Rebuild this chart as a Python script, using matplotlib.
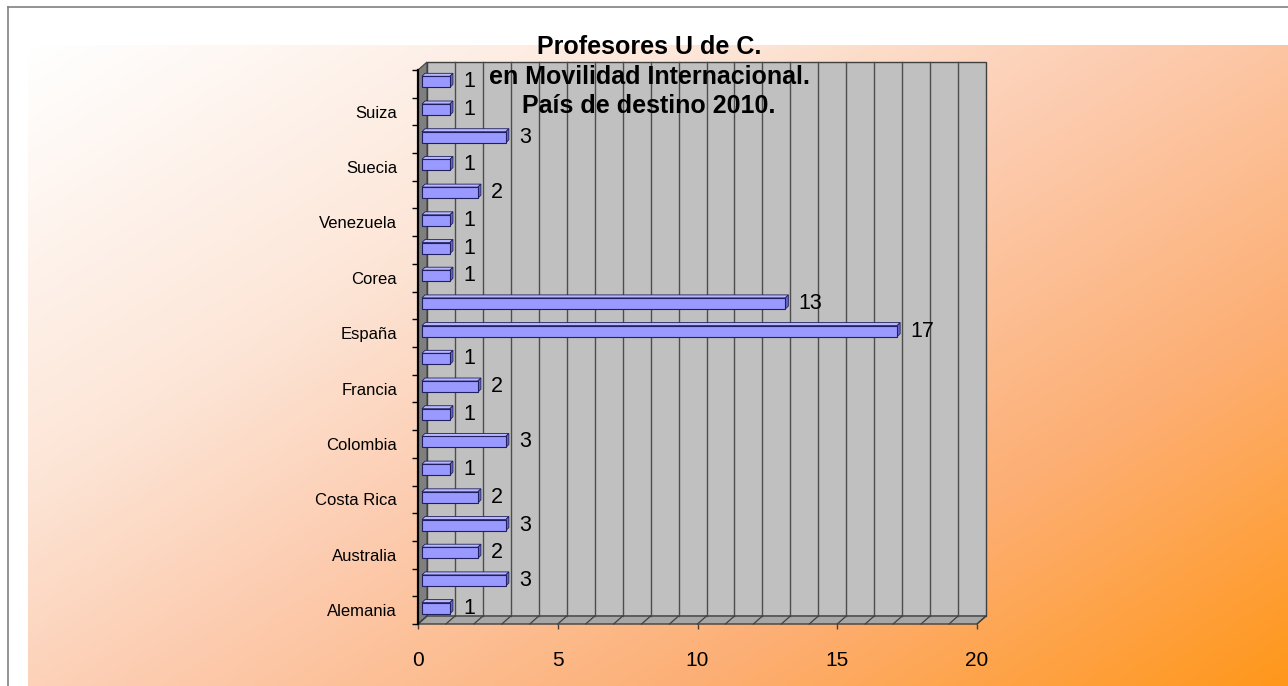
import matplotlib
matplotlib.use('Agg')
import matplotlib.pyplot as plt
import numpy as np
from matplotlib.colors import LinearSegmentedColormap
from matplotlib.patches import Polygon, Rectangle
from matplotlib.lines import Line2D

# datos (de abajo hacia arriba); solo se ven los nombres de una barra de cada dos
paises = ['Alemania', '', 'Australia', '', 'Costa Rica', '', 'Colombia', '', 'Francia', '',
          'España', '', 'Corea', '', 'Venezuela', '', 'Suecia', '', 'Suiza', '']
profesores = [1, 3, 2, 3, 2, 1, 3, 1, 2, 1, 17, 13, 1, 1, 1, 2, 1, 3, 1, 1]
xticks = [0, 5, 10, 15, 20]
titulo = 'Profesores U de C.\nen Movilidad Internacional.\nPaís de destino 2010.'

plt.rcParams['font.family'] = ['Liberation Sans', 'DejaVu Sans']

W, H = 1288, 686
fig = plt.figure(figsize=(W / 100, H / 100), dpi=100, facecolor='white')

# fondo degradado blanco -> naranja
bg = fig.add_axes([28 / W, 0, 1 - 28 / W, 1 - 45 / H], zorder=-1)
xx, yy = np.meshgrid(np.linspace(0, 1, 400), np.linspace(0, 1, 200))
t = 0.55 * xx + 0.45 * yy
cmap = LinearSegmentedColormap.from_list('naranja', [(0, '#FFFFFF'), (0.3, '#FDE6D8'), (0.5, '#FCCBAE'),
                                                     (0.75, '#FDAE72'), (1, '#FF971A')])
bg.imshow(t, cmap=cmap, aspect='auto', vmin=0, vmax=1, interpolation='bilinear')
bg.axis('off')

# marco
fig.add_artist(Line2D([8 / W, 1], [1 - 7 / H, 1 - 7 / H], color='#808080', lw=1.2))
fig.add_artist(Line2D([8 / W, 8 / W], [0, 1 - 7 / H], color='#808080', lw=1.2))

ax = fig.add_axes([418 / W, 1 - 624 / H, 559 / W, 554 / H])
ax.set_xlim(0, 20)
ax.set_ylim(-0.5, 19.5)
ax.patch.set_visible(False)

# pixeles -> unidades de datos
ux = 20 / ax.bbox.width
uy = 20 / ax.bbox.height
dx, dy = 9 * ux, 8 * uy

# paredes y piso
ax.add_patch(Rectangle((dx, -0.5 + dy), 20, 20, fc='#C0C0C0', ec='#404040', lw=1, zorder=0, clip_on=False))
ax.add_patch(Polygon([(0, -0.5), (dx, -0.5 + dy), (dx, 19.5 + dy), (0, 19.5)],
                     fc='#7F7F7F', ec='#404040', lw=0.8, zorder=0.5, clip_on=False))
ax.add_patch(Polygon([(0, -0.5), (20, -0.5), (20 + dx, -0.5 + dy), (dx, -0.5 + dy)],
                     fc='#A6A6A6', ec='#404040', lw=1, zorder=0.6, clip_on=False))
for g in range(1, 20):
    ax.plot([g + dx, g + dx], [-0.5 + dy, 19.5 + dy], color='#4D4D4D', lw=1, zorder=0.7, clip_on=False)
for g in range(0, 21):
    ax.plot([g, g + dx], [-0.5, -0.5 + dy], color='#404040', lw=0.9, zorder=0.7, clip_on=False)

# barras 3D
ypos = np.arange(len(profesores))
h = 0.4
bx, by = 4 * ux, 2 * uy
dxb, dyb = 3 * ux, 3 * uy
ax.barh(ypos + by, profesores, left=bx, height=h, color='#9999FF', edgecolor='#202060', lw=0.8,
        zorder=3, clip_on=False)
for y, v in zip(ypos, profesores):
    yc = y + by
    ax.add_patch(Polygon([(bx, yc + h / 2), (bx + v, yc + h / 2), (bx + v + dxb, yc + h / 2 + dyb),
                          (bx + dxb, yc + h / 2 + dyb)], fc='#B8B8FF', ec='#202060', lw=0.6, zorder=2.9,
                         clip_on=False))
    ax.add_patch(Polygon([(bx + v, yc - h / 2), (bx + v + dxb, yc - h / 2 + dyb), (bx + v + dxb, yc + h / 2 + dyb),
                          (bx + v, yc + h / 2)], fc='#6666CC', ec='#202060', lw=0.6, zorder=2.9, clip_on=False))
    ax.text(bx + v + dxb + 10 * ux, yc, str(v), ha='left', va='center', fontsize=15.5, zorder=4)

# ejes
for s in ['top', 'right', 'bottom']:
    ax.spines[s].set_visible(False)
ax.spines['left'].set_linewidth(1.6)
ax.spines['left'].set_zorder(1)

ax.set_yticks(ypos)
ax.set_yticklabels(paises, fontsize=12)
ax.set_yticks(np.arange(-0.5, 20, 1), minor=True)
ax.tick_params(axis='y', which='major', length=0, pad=15)
ax.tick_params(axis='y', which='minor', length=4.5, width=1, color='black', direction='out')

ax.set_xticks(xticks)
ax.set_xticklabels([str(x) for x in xticks], fontsize=15)
ax.tick_params(axis='x', length=3.6, width=1, color='#404040', pad=16)

fig.text(649 / W, 1 - 35 / H, titulo, ha='center', va='top', fontsize=18, fontweight='bold',
         linespacing=1.3, zorder=5)

fig.savefig('out.png', dpi=100, facecolor='white')
